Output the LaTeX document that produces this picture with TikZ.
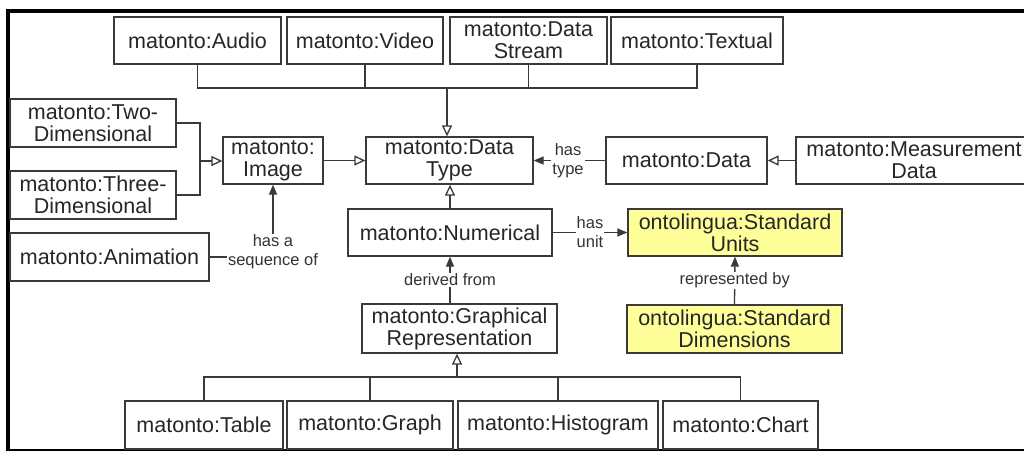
\documentclass[tikz,border=0pt]{standalone}
\usepackage{fontspec}
\setmainfont{Liberation Sans}
\usetikzlibrary{arrows.meta}
\definecolor{linegray}{HTML}{3A3A3A}
\definecolor{notefill}{HTML}{FFFF99}
\tikzset{
  box/.style={draw=linegray, line width=1.3pt, fill=white, inner sep=0pt,
    align=center, text=black!85, font=\fontsize{21.5}{22}\selectfont},
  stdbox/.style={box, fill=notefill},
  lnk/.style={draw=linegray, line width=1.3pt},
  isa/.style={lnk, -{Triangle[open, fill=white, length=11pt, width=10pt]}},
  rel/.style={lnk, -{Triangle[length=10pt, width=8pt]}},
  lbl/.style={fill=white, inner sep=1pt, align=center, text=black!80,
    font=\fontsize{16.5}{19}\selectfont},
}
\begin{document}
\begin{tikzpicture}[x=1pt, y=-1pt]
\useasboundingbox (0,0) rectangle (1024,451);
\clip (0,0) rectangle (1024,451);

% frame
\draw[line width=4pt] (8,451) -- (8,10.5) -- (1024,10.5);
\draw[line width=2pt] (8,450) -- (1024,450);

% media types
\node[box, minimum width=167pt, minimum height=47pt] (audio)   at (197.5,40.5) {matonto:Audio};
\node[box, minimum width=156pt, minimum height=47pt] (video)   at (365,40.5)   {matonto:Video};
\node[box, minimum width=157pt, minimum height=47pt] (stream)  at (528.5,40.5) {matonto:Data\\Stream};
\node[box, minimum width=172pt, minimum height=47pt] (textual) at (697,40.5)   {matonto:Textual};

% image branch
\node[box, minimum width=166pt, minimum height=48pt] (twodim)   at (93,123)  {matonto:Two-\\Dimensional};
\node[box, minimum width=166pt, minimum height=48pt] (threedim) at (93,195)  {matonto:Three-\\Dimensional};
\node[box, minimum width=100pt, minimum height=47pt] (image)    at (273,160.5) {matonto:\\Image};
\node[box, minimum width=199pt, minimum height=48pt] (animation) at (109.5,257) {matonto:Animation};

% core
\node[box, minimum width=167pt, minimum height=47pt] (datatype) at (449.5,160.5) {matonto:Data\\Type};
\node[box, minimum width=161pt, minimum height=47pt] (data)     at (686.5,160.5) {matonto:Data};
\node[box, minimum width=236pt, minimum height=47pt] (measure)  at (914,160.5)   {matonto:Measurement\\Data};
\node[box, minimum width=204pt, minimum height=47pt] (numerical) at (450,232.5)  {matonto:Numerical};
\node[stdbox, minimum width=214pt, minimum height=47pt] (units) at (735,232.5)   {ontolingua:Standard\\Units};
\node[stdbox, minimum width=215pt, minimum height=48pt] (dims)  at (734.5,329)   {ontolingua:Standard\\Dimensions};
\node[box, minimum width=195pt, minimum height=49pt] (graphrep) at (459.5,328.5) {matonto:Graphical\\Representation};

% graphical forms
\node[box, minimum width=158pt, minimum height=48pt] (table)     at (204,425)   {matonto:Table};
\node[box, minimum width=166pt, minimum height=48pt] (graph)     at (370,425)   {matonto:Graph};
\node[box, minimum width=200pt, minimum height=48pt] (histogram) at (558,425)   {matonto:Histogram};
\node[box, minimum width=155pt, minimum height=48pt] (chart)     at (740.5,425) {matonto:Chart};

% generalisation of media types
\coordinate (topbus) at (447,88);
\draw[lnk] (audio.south) |- (textual.south |- topbus) -- (textual.south);
\draw[lnk] (video.south) -- (video.south |- topbus);
\draw[lnk] (stream.south) -- (stream.south |- topbus);
\draw[isa] (topbus) -- (topbus |- datatype.north);

% generalisation of images
\coordinate (imgjoin) at (200,161);
\draw[lnk] (twodim.east) -| (imgjoin) |- (threedim.east);
\draw[isa] (imgjoin) -- (imgjoin -| image.west);
\draw[isa] (image.east) -- (datatype.west);
\draw[isa] (numerical.north) -- (numerical.north |- datatype.south);
\draw[isa] (measure.west) -- (data.east);

% associations
\draw[rel] (data.west) -- node[lbl, pos=0.52] {has\\type} (datatype.east);
\draw[rel] (numerical.east) -- node[lbl, pos=0.5] {has\\unit} (units.west);
\draw[rel] (dims.north) -- node[lbl] {represented by} (units.south);
\draw[rel] (numerical.south |- graphrep.north) -- node[lbl] {derived from} (numerical.south);
\draw[rel] (animation.east) -| node[lbl, pos=0.5, yshift=5pt] {has a\\sequence of} (image.south);

% generalisation of graphical forms
\coordinate (botbus) at (457,377);
\draw[lnk] (table.north) |- (chart.north |- botbus) -- (chart.north);
\draw[lnk] (graph.north) -- (graph.north |- botbus);
\draw[lnk] (histogram.north) -- (histogram.north |- botbus);
\draw[isa] (botbus) -- (botbus |- graphrep.south);
\end{tikzpicture}
\end{document}
